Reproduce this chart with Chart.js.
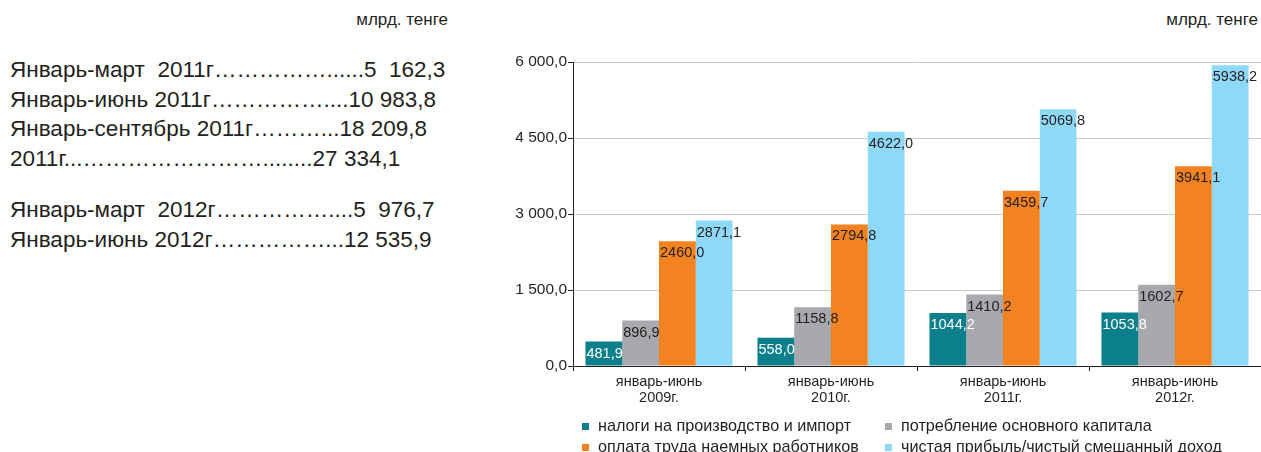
<!DOCTYPE html>
<html lang="ru">
<head>
<meta charset="utf-8">
<script src="https://cdn.jsdelivr.net/npm/chart.js@4"></script>
<style>
  html, body {
    margin: 0;
    padding: 0;
    background: #ffffff;
  }
  body {
    width: 1261px;
    height: 452px;
    position: relative;
    overflow: hidden;
    font-family: "Liberation Sans", Arial, sans-serif;
    color: #231f20;
  }
  .unit {
    position: absolute;
    top: 9px;
    font-size: 17px;
    line-height: 22px;
  }
  .totals {
    position: absolute;
    left: 10px;
    font-size: 22.5px;
    line-height: 29.7px;
    white-space: pre;
  }
  .chart-box {
    position: absolute;
    left: 480px;
    top: 0;
    width: 781px;
    height: 452px;
  }
</style>
</head>
<body>

<div class="unit" style="right: 813px;">млрд. тенге</div>
<div class="unit" style="right: 3px;">млрд. тенге</div>

<div class="totals" style="top: 55px;">Январь-март  2011г……………......5  162,3
Январь-июнь 2011г……………....10 983,8
Январь-сентябрь 2011г………...18 209,8
2011г...……………………........27 334,1</div>

<div class="totals" style="top: 195px;">Январь-март  2012г……………....5  976,7
Январь-июнь 2012г……………...12 535,9</div>

<div class="chart-box">
  <canvas id="gdp-chart"></canvas>
</div>

<script>
const categories = [
  ["январь-июнь", "2009г."],
  ["январь-июнь", "2010г."],
  ["январь-июнь", "2011г."],
  ["январь-июнь", "2012г."]
];

const seriesNames = [
  "налоги на производство и импорт",
  "потребление основного капитала",
  "оплата труда наемных работников",
  "чистая прибыль/чистый смешанный доход"
];

const taxes = [481.9, 558.0, 1044.2, 1053.8];
const capitalUse = [896.9, 1158.8, 1410.2, 1602.7];
const wages = [2460.0, 2794.8, 3459.7, 3941.1];
const netProfit = [2871.1, 4622.0, 5069.8, 5938.2];

const yTicks = [0, 1500, 3000, 4500, 6000];

const colors = ["#0b7f8c", "#a7a9ac", "#f38220", "#8ed8f8"];
const labelColors = ["#ffffff", "#231f20", "#231f20", "#231f20"];

const FONT = "'Liberation Sans', Arial, sans-serif";

function formatValue(v) {
  return v.toFixed(1).replace(".", ",");
}

function formatTick(v) {
  const parts = v.toFixed(1).split(".");
  const whole = parts[0].replace(/\B(?=(\d{3})+(?!\d))/g, " ");
  return whole + "," + parts[1];
}

// values written inside the top of each bar, from the bar's left edge
const barValues = {
  id: "barValues",
  afterDatasetsDraw(chart) {
    const ctx = chart.ctx;
    ctx.save();
    ctx.font = "14.5px " + FONT;
    ctx.textAlign = "left";
    ctx.textBaseline = "middle";
    chart.data.datasets.forEach(function(ds, i) {
      const meta = chart.getDatasetMeta(i);
      meta.data.forEach(function(bar, j) {
        const left = bar.x - bar.width / 2;
        ctx.fillStyle = labelColors[i];
        ctx.fillText(formatValue(ds.data[j]), left + 1, bar.y + 12);
      });
    });
    ctx.restore();
  }
};

// two-column legend below the axis
const gridLegend = {
  id: "gridLegend",
  afterDraw(chart) {
    const ctx = chart.ctx;
    const cols = [102, 405];
    const rows = [427, 448];
    ctx.save();
    ctx.font = "16.2px " + FONT;
    ctx.textAlign = "left";
    ctx.textBaseline = "middle";
    chart.data.datasets.forEach(function(ds, i) {
      const x = cols[i % 2];
      const y = rows[Math.floor(i / 2)];
      ctx.fillStyle = ds.backgroundColor;
      ctx.fillRect(x, y - 4, 7, 7);
      ctx.fillStyle = "#231f20";
      ctx.fillText(ds.label, x + 16, y);
    });
    ctx.restore();
  }
};

const seriesData = [taxes, capitalUse, wages, netProfit];

new Chart(document.getElementById("gdp-chart"), {
  type: "bar",
  data: {
    labels: categories,
    datasets: seriesData.map(function(values, i) {
      return {
        label: seriesNames[i],
        data: values,
        backgroundColor: colors[i],
        borderWidth: 0,
        barPercentage: 1,
        categoryPercentage: 0.855
      };
    })
  },
  options: {
    responsive: true,
    maintainAspectRatio: false,
    animation: false,
    layout: {
      padding: { top: 62, bottom: 46, left: 0, right: 0 }
    },
    plugins: {
      legend: { display: false },
      tooltip: { enabled: false }
    },
    scales: {
      x: {
        afterFit: function(scale) { scale.height = 40; },
        grid: {
          offset: true,
          drawOnChartArea: false,
          drawTicks: true,
          tickLength: 5,
          tickColor: "#231f20"
        },
        border: { color: "#231f20", width: 1 },
        ticks: {
          color: "#231f20",
          font: { family: FONT, size: 14.5, lineHeight: 1.1 },
          padding: 3,
          maxRotation: 0
        }
      },
      y: {
        min: yTicks[0],
        max: yTicks[yTicks.length - 1],
        afterFit: function(scale) { scale.width = 93; },
        afterBuildTicks: function(scale) {
          scale.ticks = yTicks.map(function(v) { return { value: v }; });
        },
        grid: {
          color: "#c8c8c8",
          tickColor: "#231f20",
          tickLength: 5,
          lineWidth: 1
        },
        border: { color: "#231f20", width: 1 },
        ticks: {
          color: "#231f20",
          font: { family: FONT, size: 15.5 },
          padding: 1,
          callback: function(value) { return formatTick(value); }
        }
      }
    }
  },
  plugins: [barValues, gridLegend]
});
</script>
</body>
</html>
